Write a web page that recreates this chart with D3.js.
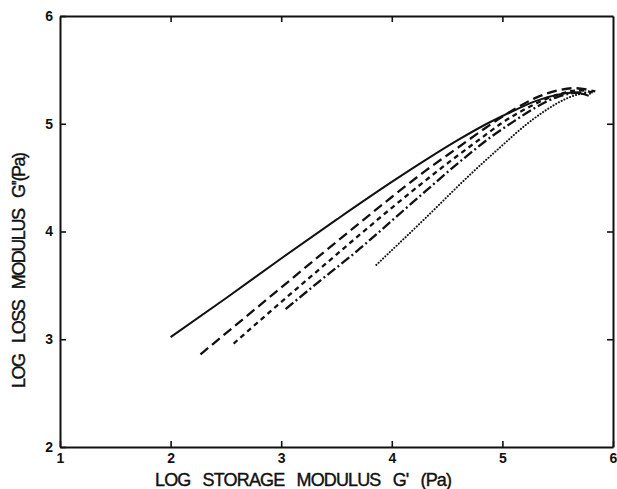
<!DOCTYPE html>
<html>
<head>
<meta charset="utf-8">
<script src="https://cdn.jsdelivr.net/npm/d3@7/dist/d3.min.js"></script>
<style>
  html, body { margin: 0; padding: 0; background: #fff; }
  svg { display: block; }
  .tick text { font-family: "Liberation Sans", Arial, sans-serif; font-weight: bold; font-size: 14px; fill: #111; }
  .title { font-family: "Liberation Sans", Arial, sans-serif; font-size: 18px; fill: #111; stroke: #111; stroke-width: 0.4; word-spacing: 8px; }
</style>
</head>
<body>
<script>
// ---- data (log G', log G'') ----
const xTicks = [1, 2, 3, 4, 5, 6];
const yTicks = [2, 3, 4, 5, 6];
const xTitle = "LOG STORAGE MODULUS G' (Pa)";
const yTitle = "LOG LOSS MODULUS G''(Pa)";

const solidX = [2.0, 2.5, 3.0, 3.5, 4.0, 4.3, 4.6, 4.86, 5.1, 5.3, 5.5, 5.65, 5.78];
const solidY = [3.02, 3.38, 3.75, 4.11, 4.46, 4.66, 4.85, 5.0, 5.12, 5.21, 5.27, 5.29, 5.26];

const longDashX = [2.27, 2.6, 3.0, 3.4, 3.71, 4.0, 4.3, 4.6, 4.86, 5.1, 5.3, 5.5, 5.65, 5.84];
const longDashY = [2.86, 3.14, 3.48, 3.82, 4.08, 4.32, 4.56, 4.78, 4.97, 5.13, 5.24, 5.31, 5.33, 5.30];

const shortDashX = [2.57, 2.96, 3.3, 3.71, 4.0, 4.5, 4.8, 5.0, 5.25, 5.5, 5.7, 5.82];
const shortDashY = [2.96, 3.31, 3.61, 3.97, 4.22, 4.63, 4.86, 5.01, 5.16, 5.27, 5.31, 5.29];

const dashDotX = [3.04, 3.3, 3.71, 4.0, 4.3, 4.63, 4.9, 5.1, 5.3, 5.5, 5.7, 5.8];
const dashDotY = [3.28, 3.5, 3.84, 4.1, 4.37, 4.66, 4.88, 5.02, 5.15, 5.25, 5.29, 5.28];

const dottedX = [3.86, 4.3, 4.7, 5.0, 5.2, 5.4, 5.55, 5.68, 5.75];
const dottedY = [3.69, 4.12, 4.52, 4.80, 4.98, 5.13, 5.22, 5.27, 5.28];

const seriesX = [solidX, longDashX, shortDashX, dashDotX, dottedX];
const seriesY = [solidY, longDashY, shortDashY, dashDotY, dottedY];
const seriesDash = [null, "10,5", "5,4", "10,3,2,3", "0.1,3"];
const seriesWidth = [2, 2.3, 2.3, 2.3, 2];

const W = 617, H = 489;
const m = { left: 60, right: 4, top: 16, bottom: 42 };

const svg = d3.select("body").append("svg").attr("width", W).attr("height", H);

const x = d3.scaleLinear().domain([1, 6]).range([m.left, W - m.right]);
const y = d3.scaleLinear().domain([2, 6]).range([H - m.bottom, m.top]);

const axStroke = g => {
  g.select(".domain").attr("stroke", "#111").attr("stroke-width", 2);
  g.selectAll(".tick line").attr("stroke", "#111").attr("stroke-width", 1.6);
};

svg.append("g").attr("transform", `translate(0,${y(2)})`)
  .call(d3.axisBottom(x).tickValues(xTicks).tickSizeInner(-6).tickSizeOuter(0).tickPadding(5).tickFormat(d3.format("d")))
  .call(axStroke)
  .call(g => g.selectAll(".tick text").attr("dy", "0.8em"));

svg.append("g").attr("transform", `translate(0,${y(6)})`)
  .call(d3.axisTop(x).tickValues(xTicks.slice(1, -1)).tickSizeInner(-6).tickSizeOuter(0).tickFormat(""))
  .call(axStroke);

svg.append("g").attr("transform", `translate(${x(1)},0)`)
  .call(d3.axisLeft(y).tickValues(yTicks).tickSizeInner(-6).tickSizeOuter(0).tickPadding(7).tickFormat(d3.format("d")))
  .call(axStroke);

svg.append("g").attr("transform", `translate(${x(6)},0)`)
  .call(d3.axisRight(y).tickValues(yTicks.slice(1, -1)).tickSizeInner(-6).tickSizeOuter(0).tickFormat(""))
  .call(axStroke);

const line = d3.line().x(d => x(d[0])).y(d => y(d[1])).curve(d3.curveMonotoneX);

seriesX.forEach((xs, i) => {
  const pts = xs.map((v, j) => [v, seriesY[i][j]]);
  svg.append("path")
    .datum(pts)
    .attr("d", line)
    .attr("fill", "none")
    .attr("stroke", "#111")
    .attr("stroke-width", seriesWidth[i])
    .attr("stroke-dasharray", seriesDash[i])
    .attr("stroke-linecap", i === 4 ? "round" : "butt");
});

svg.append("text").attr("class", "title")
  .attr("x", 155).attr("y", 486)
  .attr("textLength", 297).attr("lengthAdjust", "spacing")
  .text(xTitle);

svg.append("text").attr("class", "title")
  .attr("transform", `translate(25,388) rotate(-90)`)
  .attr("textLength", 236).attr("lengthAdjust", "spacing")
  .text(yTitle);
</script>
</body>
</html>
